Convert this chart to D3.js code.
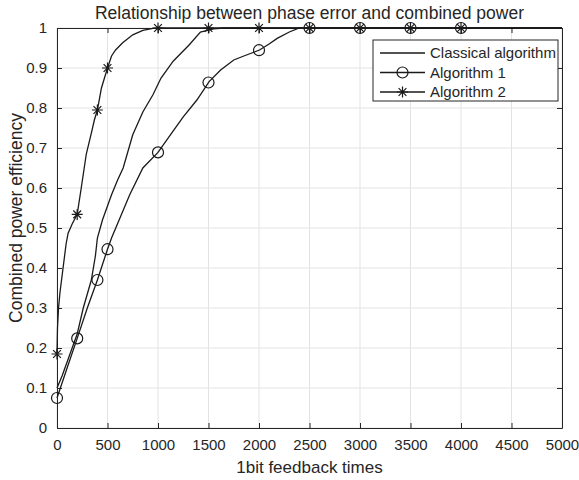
<!DOCTYPE html>
<html>
<head>
<meta charset="utf-8">
<script src="https://cdn.jsdelivr.net/npm/d3@7"></script>
<style>
  body { margin: 0; background: #fff; }
  text { font-family: Arial, "Liberation Sans", Helvetica, sans-serif; fill: #262626; }
</style>
</head>
<body>
<div id="chart"></div>
<script>
// values
var classicalX = [0, 50, 100, 150, 200, 260, 340, 380, 400, 450, 540, 600, 655, 750, 850, 950, 1030, 1150, 1310, 1420, 1550, 1650, 5000];
var classicalY = [0.10, 0.13, 0.165, 0.20, 0.235, 0.30, 0.37, 0.43, 0.475, 0.52, 0.583, 0.62, 0.65, 0.733, 0.79, 0.833, 0.875, 0.917, 0.958, 0.99, 0.998, 1, 1];

var alg1X = [0, 100, 200, 300, 400, 500, 540, 615, 720, 850, 1000, 1135, 1250, 1385, 1506, 1620, 1750, 1850, 2005, 2100, 2180, 2300, 2400, 5000];
var alg1Y = [0.075, 0.15, 0.224, 0.30, 0.37, 0.447, 0.475, 0.52, 0.583, 0.65, 0.689, 0.737, 0.778, 0.82, 0.866, 0.895, 0.92, 0.93, 0.945, 0.96, 0.974, 0.99, 1, 1];

var alg2X = [0, 5, 15, 30, 60, 90, 110, 150, 200, 240, 290, 340, 370, 400, 440, 470, 500, 540, 580, 650, 750, 850, 950, 1000, 5000];
var alg2Y = [0.185, 0.25, 0.30, 0.34, 0.40, 0.46, 0.487, 0.51, 0.534, 0.60, 0.685, 0.737, 0.77, 0.795, 0.85, 0.875, 0.90, 0.93, 0.945, 0.963, 0.983, 0.994, 0.999, 1, 1];

var markerX = [0, 200, 400, 500, 1000, 1500, 2000, 2500, 3000, 3500, 4000];

var xTicks = [0, 500, 1000, 1500, 2000, 2500, 3000, 3500, 4000, 4500, 5000];
var yTicks = [0, 0.1, 0.2, 0.3, 0.4, 0.5, 0.6, 0.7, 0.8, 0.9, 1];

var seriesNames = ["Classical algorithm", "Algorithm 1", "Algorithm 2"];

var width = 579, height = 480;
var margin = {top: 28, right: 17, bottom: 52, left: 57};
var w = width - margin.left - margin.right,
    h = height - margin.top - margin.bottom;

var svg = d3.select("#chart").append("svg")
    .attr("width", width)
    .attr("height", height);

var g = svg.append("g")
    .attr("transform", "translate(" + margin.left + "," + margin.top + ")");

var x = d3.scaleLinear().domain([0, 5000]).range([0, w]);
var y = d3.scaleLinear().domain([0, 1]).range([h, 0]);

// grid
g.append("g").selectAll("line").data(xTicks).enter().append("line")
    .attr("x1", d => x(d)).attr("x2", d => x(d))
    .attr("y1", 0).attr("y2", h)
    .attr("stroke", "#e3e3e3").attr("stroke-width", 1);
g.append("g").selectAll("line").data(yTicks).enter().append("line")
    .attr("y1", d => y(d)).attr("y2", d => y(d))
    .attr("x1", 0).attr("x2", w)
    .attr("stroke", "#e3e3e3").attr("stroke-width", 1);

// axes (ticks point inward, box on)
var tickLen = 5;
var xAxis = g.append("g").attr("transform", "translate(0," + h + ")")
    .call(d3.axisBottom(x).tickValues(xTicks).tickSizeInner(-tickLen).tickSizeOuter(0).tickPadding(11).tickFormat(d3.format("d")));
var yAxis = g.append("g")
    .call(d3.axisLeft(y).tickValues(yTicks).tickSizeInner(-tickLen).tickSizeOuter(0).tickPadding(10).tickFormat(d => d === 0 || d === 1 ? d : d3.format(".1f")(d)));
var xTop = g.append("g")
    .call(d3.axisTop(x).tickValues(xTicks).tickSizeInner(-tickLen).tickSizeOuter(0).tickFormat(""));
var yRight = g.append("g").attr("transform", "translate(" + w + ",0)")
    .call(d3.axisRight(y).tickValues(yTicks).tickSizeInner(-tickLen).tickSizeOuter(0).tickFormat(""));

[xAxis, yAxis, xTop, yRight].forEach(function(a) {
    a.selectAll("path").attr("stroke", "#262626").attr("stroke-width", 1);
    a.selectAll("line").attr("stroke", "#262626");
    a.selectAll("text").style("font-size", "15px").attr("fill", "#262626");
});

// lines
var line = d3.line().x(d => x(d[0])).y(d => y(d[1]));
var series = [
    d3.zip(classicalX, classicalY),
    d3.zip(alg1X, alg1Y),
    d3.zip(alg2X, alg2Y)
];
series.forEach(function(s) {
    g.append("path").datum(s)
        .attr("d", line)
        .attr("fill", "none")
        .attr("stroke", "#1a1a1a")
        .attr("stroke-width", 1.3);
});

function interp(xs, ys, v) {
    var i = d3.bisectRight(xs, v) - 1;
    if (i < 0) return ys[0];
    if (i >= xs.length - 1) return ys[ys.length - 1];
    var t = (v - xs[i]) / (xs[i + 1] - xs[i]);
    return ys[i] + t * (ys[i + 1] - ys[i]);
}

function drawCircle(sel, cx, cy) {
    sel.append("circle").attr("cx", cx).attr("cy", cy).attr("r", 5.5)
        .attr("fill", "none").attr("stroke", "#1a1a1a").attr("stroke-width", 1.2);
}
function drawStar(sel, cx, cy) {
    var r = 5.5, d = r * 0.7071;
    var p = "M" + (cx - r) + "," + cy + "h" + (2 * r) +
            "M" + cx + "," + (cy - r) + "v" + (2 * r) +
            "M" + (cx - d) + "," + (cy - d) + "l" + (2 * d) + "," + (2 * d) +
            "M" + (cx - d) + "," + (cy + d) + "l" + (2 * d) + "," + (-2 * d);
    sel.append("path").attr("d", p).attr("stroke", "#1a1a1a").attr("stroke-width", 1.2).attr("fill", "none");
}

var markers = g.append("g");
markerX.forEach(function(m) {
    drawCircle(markers, x(m), y(interp(alg1X, alg1Y, m)));
    drawStar(markers, x(m), y(interp(alg2X, alg2Y, m)));
});

// legend
var lg = g.append("g").attr("transform", "translate(" + (373 - margin.left) + "," + (40 - margin.top) + ")");
lg.append("rect").attr("width", 185).attr("height", 61)
    .attr("fill", "#fff").attr("stroke", "#262626").attr("stroke-width", 1);
seriesNames.forEach(function(name, i) {
    var ly = 13 + i * 19.5;
    lg.append("line").attr("x1", 7).attr("x2", 52).attr("y1", ly).attr("y2", ly)
        .attr("stroke", "#1a1a1a").attr("stroke-width", 1.3);
    if (i === 1) drawCircle(lg, 29.5, ly);
    if (i === 2) drawStar(lg, 29.5, ly);
    lg.append("text").attr("x", 57).attr("y", ly).attr("dy", "0.35em")
        .style("font-size", "15px").text(name);
});

// titles
svg.append("text").attr("x", margin.left + w / 2).attr("y", 19)
    .attr("text-anchor", "middle").style("font-size", "17.5px")
    .text("Relationship between phase error and combined power");
svg.append("text").attr("x", margin.left + w / 2).attr("y", 473)
    .attr("text-anchor", "middle").style("font-size", "17px")
    .text("1bit feedback times");
svg.append("text").attr("transform", "translate(22,218) rotate(-90)")
    .attr("text-anchor", "middle").style("font-size", "17.5px")
    .text("Combined power efficiency");
</script>
</body>
</html>
